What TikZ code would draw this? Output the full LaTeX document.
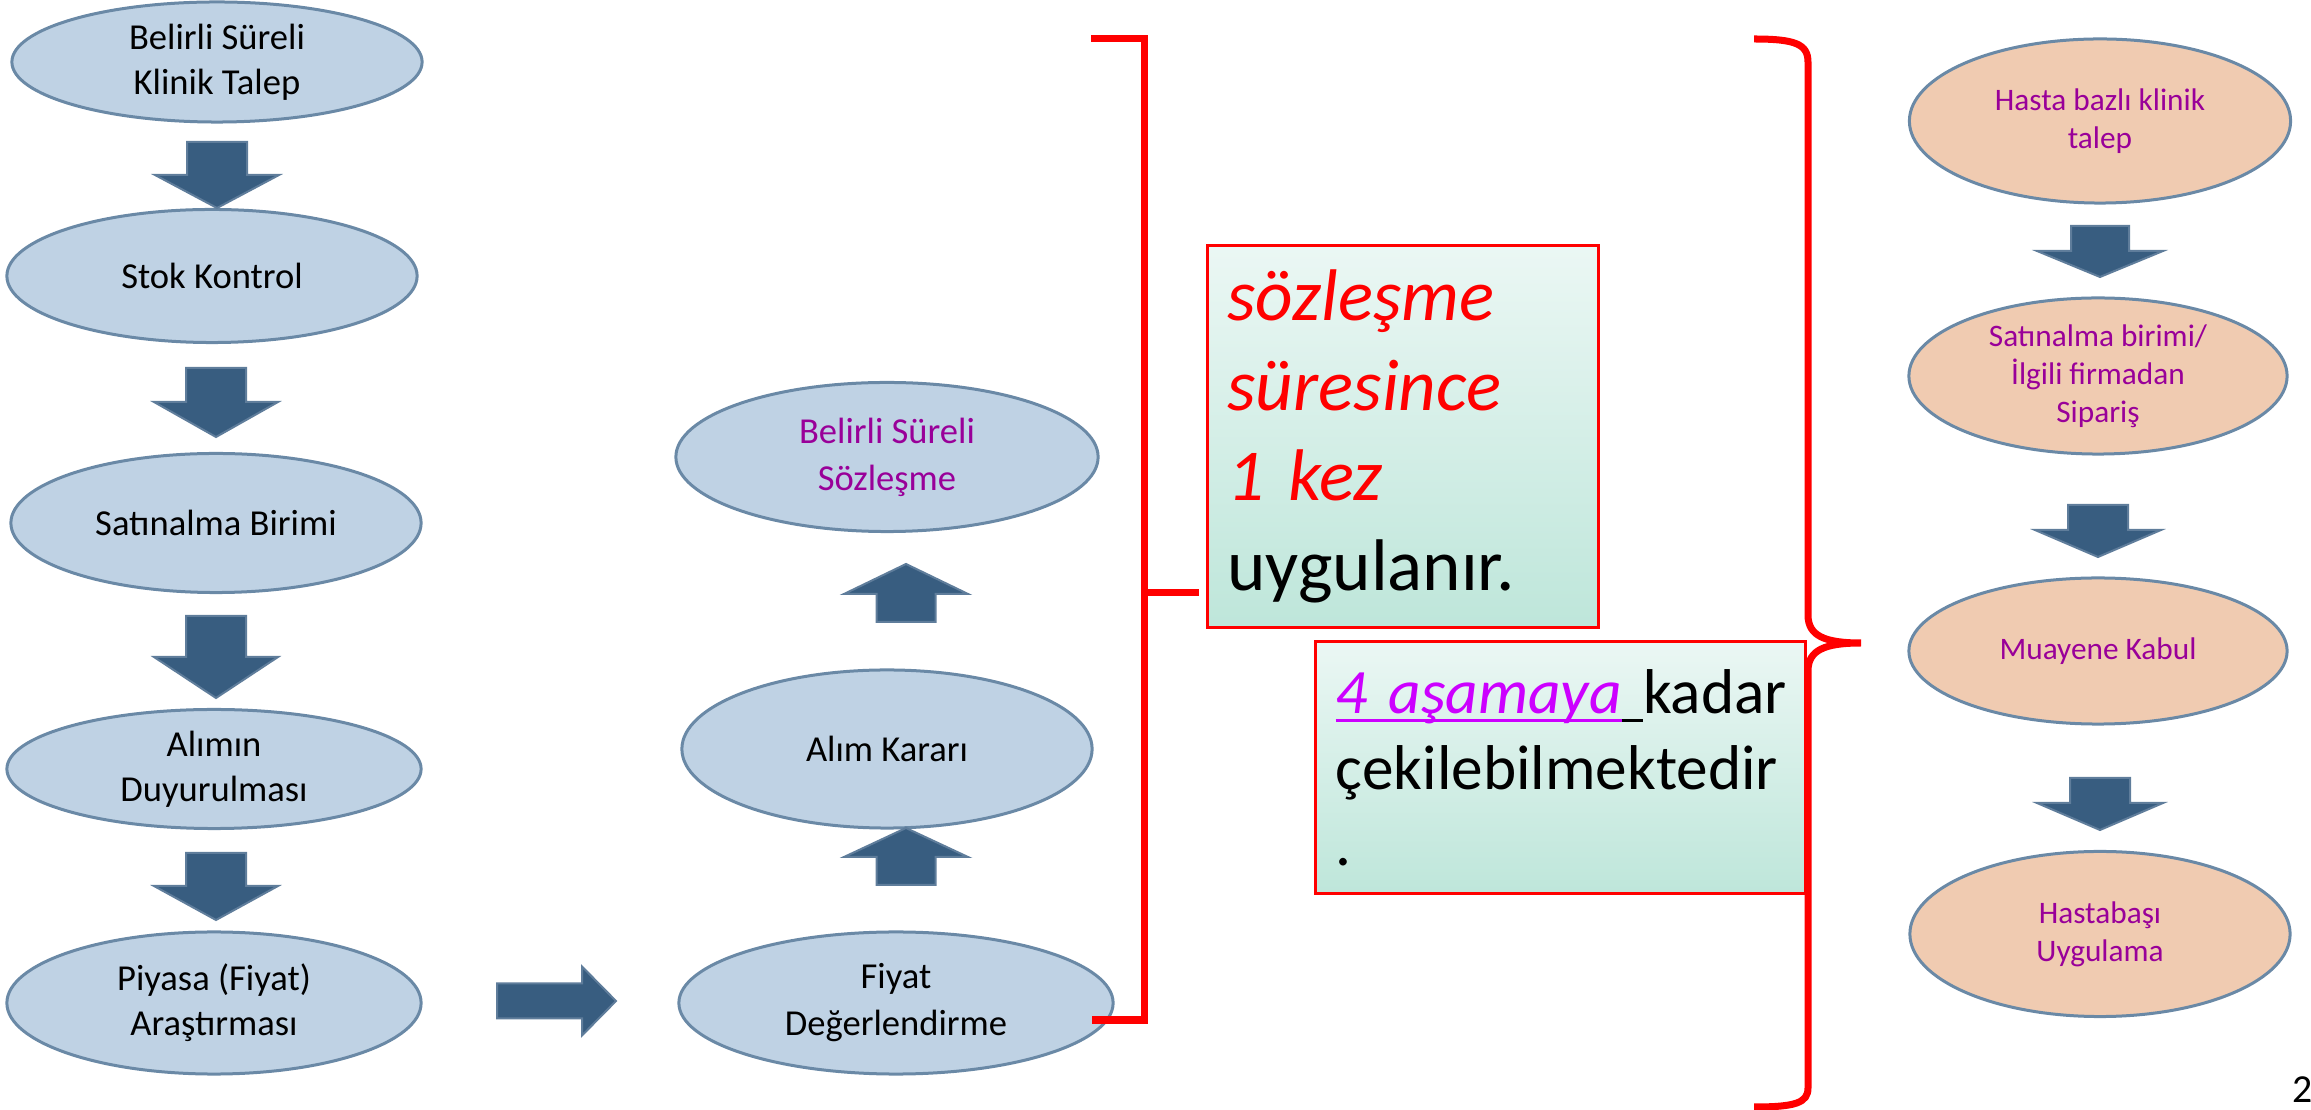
\documentclass[tikz,border=0pt]{standalone}
\usepackage{fontspec}
\setmainfont{Carlito}
\usetikzlibrary{shapes.geometric}

\definecolor{ovalblue}{RGB}{191,210,228}
\definecolor{ovalpeach}{RGB}{240,203,177}
\definecolor{ovalline}{RGB}{106,137,166}
\definecolor{arrowblue}{RGB}{56,93,128}
\definecolor{arrowline}{RGB}{95,125,155}
\definecolor{textpurple}{RGB}{153,0,153}
\definecolor{linkpink}{RGB}{204,0,255}
\definecolor{boxtop}{RGB}{235,247,244}
\definecolor{boxbottom}{RGB}{190,230,218}

\newsavebox\ulinebox
\newcommand{\linkline}[1]{\sbox\ulinebox{#1}\rlap{\rule[-2.6pt]{\wd\ulinebox}{1pt}}\usebox\ulinebox}

\begin{document}
\begin{tikzpicture}[x=0.01cm, y=-0.01cm,
        every node/.style = {inner sep=0pt},
        oval/.style = {ellipse, draw=ovalline, line width=0.03cm, align=center},
        blue oval/.style = {oval, fill=ovalblue, font=\fontsize{10.4}{12.8}\selectfont},
        peach oval/.style = {oval, fill=ovalpeach, text=textpurple,
                font=\fontsize{8.9}{10.8}\selectfont},
        note/.style = {draw=red, line width=0.03cm, top color=boxtop, bottom color=boxbottom,
                align=left, inner xsep=0.2cm, anchor=north west},
        bracket/.style = {draw=red, line width=0.07cm},
        pics/blockarr/.style n args = {4}{code={
            \path[fill=arrowblue, draw=arrowline, line width=0.02cm]
                (0,-#3) -- ({#1-#2},-#3) -- ({#1-#2},-#4) -- (#1,0)
                -- ({#1-#2},#4) -- ({#1-#2},#3) -- (0,#3) -- cycle;}}]
    \useasboundingbox (0,0) rectangle (2311,1110);

    \node[blue oval, minimum width=4.10cm, minimum height=1.20cm] (talep) at (217,62) {Belirli Süreli\\Klinik Talep};
    \node[blue oval, minimum width=4.10cm, minimum height=1.33cm] (stok) at (212,276) {Stok Kontrol};
    \node[blue oval, minimum width=4.10cm, minimum height=1.39cm] (birim) at (216,523) {Satınalma Birimi};
    \node[blue oval, minimum width=4.14cm, minimum height=1.19cm] (duyuru) at (214,769) {Alımın\\Duyurulması};
    \node[blue oval, minimum width=4.14cm, minimum height=1.42cm] (piyasa) at (214,1003) {Piyasa (Fiyat)\\Araştırması};

    \node[blue oval, text=textpurple, minimum width=4.22cm, minimum height=1.49cm,
        font=\fontsize{10.4}{13.4}\selectfont] (sozlesme) at (887,457) {Belirli Süreli\\Sözleşme};
    \node[blue oval, minimum width=4.10cm, minimum height=1.58cm] (karar) at (887,749) {Alım Kararı};
    \node[blue oval, minimum width=4.34cm, minimum height=1.42cm,
        font=\fontsize{10.4}{13.4}\selectfont] (degerlendirme) at (896,1003) {Fiyat\\Değerlendirme};

    \node[peach oval, minimum width=3.81cm, minimum height=1.64cm] (hasta) at (2100,121) {Hasta bazlı klinik\\talep};
    \node[peach oval, minimum width=3.78cm, minimum height=1.56cm] (siparis) at (2098,376) {Satınalma birimi/\\İlgili firmadan\\Sipariş};
    \node[peach oval, minimum width=3.78cm, minimum height=1.46cm] (muayene) at (2098,651) {Muayene Kabul};
    \node[peach oval, minimum width=3.80cm, minimum height=1.65cm] (hastabasi) at (2100,934) {Hastabaşı\\Uygulama};

    \pic[rotate=-90] (arr1) at (217,142) {blockarr={66}{33}{30}{62}};
    \pic[rotate=-90] (arr2) at (216,368) {blockarr={69}{35}{30}{62}};
    \pic[rotate=-90] (arr3) at (216,616) {blockarr={82}{41}{30}{62}};
    \pic[rotate=-90] (arr4) at (216,853) {blockarr={67}{34}{30}{62}};
    \pic (arr5) at (497,1001) {blockarr={119}{34}{17.5}{34.5}};
    \pic[rotate=90] (arr6) at (906,885) {blockarr={57}{29}{29.5}{62}};
    \pic[rotate=90] (arr7) at (906,622) {blockarr={58}{30}{29.5}{62}};
    \pic[rotate=-90] (arr8) at (2100,226) {blockarr={51}{26}{29}{63}};
    \pic[rotate=-90] (arr9) at (2098,505) {blockarr={52}{27}{30}{63}};
    \pic[rotate=-90] (arr10) at (2100,778) {blockarr={52}{27}{30}{63}};

    \node[note, minimum width=3.91cm, minimum height=3.82cm, text width=3.51cm,
        font=\fontsize{20.8}{25.6}\selectfont] (kez) at (1206,244)
        {\textcolor{red}{\textit{sözleşme}}\\ \textcolor{red}{\textit{süresince}}\\
         \textcolor{red}{\textit{1 kez}}\\ uygulanır.};
    \node[note, minimum width=4.90cm, minimum height=2.52cm, text width=4.50cm,
        font=\fontsize{18}{21.6}\selectfont] (asama) at (1314,640)
        {{\color{linkpink}\linkline{\textit{4 aşamaya}}}\linkline{\ }kadar\\ \mbox{çekilebilmektedir}\\ .};

    \coordinate (bracket top) at (1091,39);
    \coordinate (bracket mid) at (1144,593);
    \coordinate (bracket bottom) at (1092,1020);
    \draw[bracket] (bracket top) -| (bracket mid) |- (bracket bottom);
    \draw[bracket] (bracket mid) -- ([xshift=-0.07cm]kez.west |- bracket mid);

    \coordinate (brace top) at (1754,39);
    \coordinate (brace tip) at (1861,643);
    \coordinate (brace bottom) at (1754,1107);
    \draw[bracket] (brace top) .. controls (1795,39) and (1808,44) .. (1808,62)
        -- (1808,615) .. controls (1808,636) and (1825,643) .. (brace tip)
        .. controls (1825,643) and (1808,650) .. (1808,671)
        -- (1808,1088) .. controls (1808,1103) and (1795,1107) .. (brace bottom);

    \node[anchor=base west, font=\fontsize{11.3}{13}\selectfont] (sayfa) at (2292,1103) {2};
\end{tikzpicture}
\end{document}
